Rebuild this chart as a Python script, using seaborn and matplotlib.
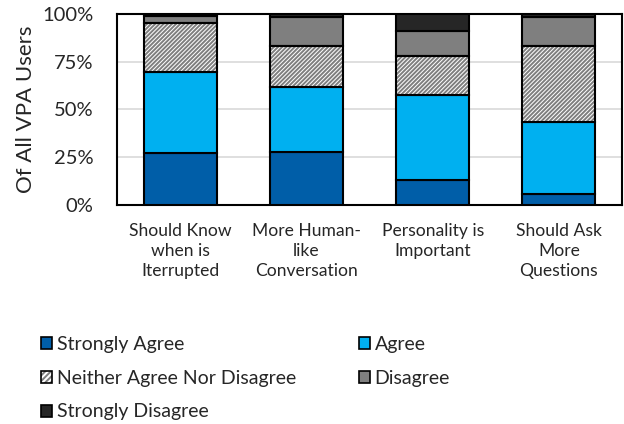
import matplotlib
matplotlib.use("Agg")
import matplotlib.pyplot as plt
import matplotlib.patches as mpatches
from matplotlib.legend_handler import HandlerTuple
import seaborn as sns
import pandas as pd
import numpy as np

categories = ["Should Know\nwhen is\nIterrupted", "More Human-\nlike\nConversation",
              "Personality is\nImportant", "Should Ask\nMore\nQuestions"]
series = ["Strongly Agree", "Agree", "Neither Agree Nor Disagree", "Disagree", "Strongly Disagree"]
strongly_agree = [27.0, 27.7, 13.1, 5.8]
agree = [42.5, 34.1, 44.3, 37.8]
neither = [25.6, 21.4, 20.7, 39.6]
disagree = [3.8, 15.0, 12.8, 15.0]
strongly_disagree = [1.1, 1.8, 9.1, 1.8]
yticks = [0, 25, 50, 75, 100]
ytick_labels = ["0%", "25%", "50%", "75%", "100%"]

values = [strongly_agree, agree, neither, disagree, strongly_disagree]
colors = ["#005EA8", "#00B0F0", "white", "#7F7F7F", "#262626"]
hatches = [None, None, "////////", None, None]
HATCH_COLOR = "#7F7F7F"

sns.set_theme(style="white")
plt.rcParams['font.family'] = ['Lato', 'DejaVu Sans']
plt.rcParams['hatch.linewidth'] = 1.4

fig = plt.figure(figsize=(6.24, 4.24), dpi=100)
ax = fig.add_axes([117/624, 1 - 205/424, 505/624, 191/424])

BW = 0.58
bottom = np.zeros(len(categories))
handles = {}
for name, vals, col, h in zip(series, values, colors, hatches):
    df = pd.DataFrame({"cat": categories, "val": vals})
    if h:
        # hatched fill drawn with grey hatch lines, then black outline
        sns.barplot(data=df, x="cat", y="val", ax=ax, color=col, saturation=1,
                    width=BW, bottom=bottom, edgecolor=HATCH_COLOR, linewidth=0,
                    hatch=h, zorder=3, errorbar=None)
        n_before = len(ax.patches)
        sns.barplot(data=df, x="cat", y="val", ax=ax, color="white", saturation=1,
                    width=BW, bottom=bottom, edgecolor="black", linewidth=1.5,
                    zorder=4, errorbar=None)
        for p in ax.patches[n_before:]:
            p.set_facecolor("none")
        p1 = mpatches.Patch(facecolor=col, edgecolor=HATCH_COLOR, hatch="//////", linewidth=0)
        p2 = mpatches.Patch(facecolor="none", edgecolor="black", linewidth=1.2)
        handles[name] = (p1, p2)
    else:
        sns.barplot(data=df, x="cat", y="val", ax=ax, color=col, saturation=1,
                    width=BW, bottom=bottom, edgecolor="black", linewidth=1.5,
                    zorder=3, errorbar=None)
        handles[name] = mpatches.Patch(facecolor=col, edgecolor="black", linewidth=1.2)
    bottom = bottom + np.array(vals)

ax.set_ylim(0, 100)
ax.set_xlim(-0.5, len(categories) - 0.5)
ax.set_yticks(yticks)
ax.set_yticklabels(ytick_labels, fontsize=14.5)
ax.set_xlabel("")
ax.set_ylabel("Of All VPA Users", fontsize=16)
ax.yaxis.set_label_coords(-0.160, 0.5)
ax.tick_params(axis='x', labelsize=12.6, length=0, pad=13)
ax.tick_params(axis='y', length=0, pad=17)
for lbl in ax.get_xticklabels():
    lbl.set_linespacing(1.3)
ax.yaxis.grid(True, color="#D9D9D9", linewidth=1.2, zorder=0)
for s in ax.spines.values():
    s.set_visible(True)
    s.set_color("black")
    s.set_linewidth(1.5)

# row-major legend order: matplotlib fills columns first
order = ["Strongly Agree", "Neither Agree Nor Disagree", "Strongly Disagree", "Agree", "Disagree"]
fig.legend(handles=[handles[n] for n in order], labels=order, ncol=2,
           loc="upper left", bbox_to_anchor=(41/624, 1 - 336/424),
           frameon=False, fontsize=14, handlelength=0.58, handleheight=0.58,
           handletextpad=0.22, columnspacing=3.25, labelspacing=0.86,
           borderpad=0, borderaxespad=0,
           handler_map={tuple: HandlerTuple(ndivide=1)})

fig.savefig("out.png", dpi=100)
